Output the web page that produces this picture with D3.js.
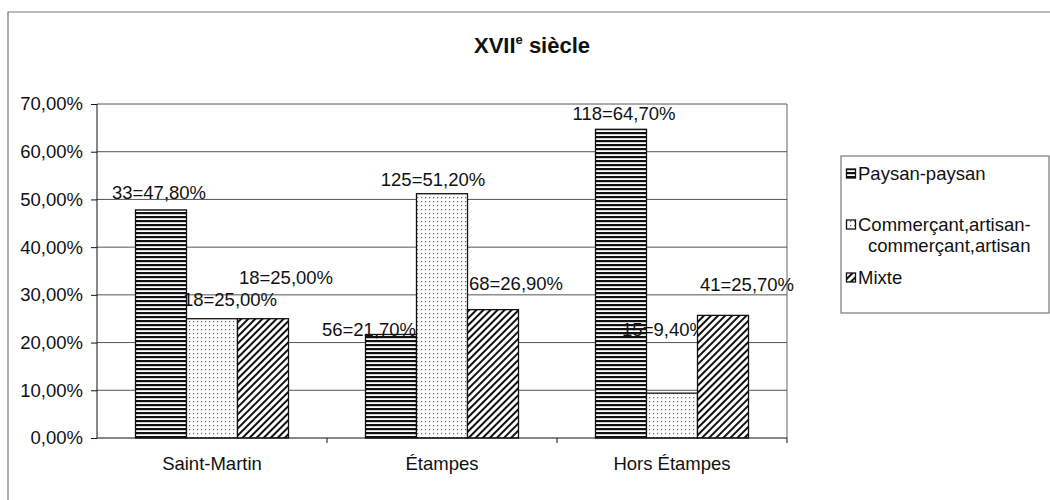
<!DOCTYPE html>
<html lang="fr">
<head>
<meta charset="UTF-8">
<title>XVIIe siècle</title>
<script src="https://d3js.org/d3.v7.min.js"></script>
<style>
  body { margin: 0; background: #fff; }
  text { font-family: "Liberation Sans", Arial, sans-serif; fill: #111; }
</style>
</head>
<body>
<script>
// data
const categories = ["Saint-Martin", "Étampes", "Hors Étampes"];
const seriesNames = ["Paysan-paysan", "Commerçant,artisan-commerçant,artisan", "Mixte"];
const paysan = [47.8, 21.7, 64.7];
const commercant = [25.0, 51.2, 9.4];
const mixte = [25.0, 26.9, 25.7];
const paysanN = [33, 56, 118];
const commercantN = [18, 125, 15];
const mixteN = [18, 68, 41];
const yTicks = [0, 10, 20, 30, 40, 50, 60, 70];

// label nudges (dx from bar centre, dy from bar top), labels were moved by hand in the original
const labelNudge = [
  [[-2, -17], [-22, -5], [3, -16]],
  [[18, -19], [-9, -14], [-8, -64]],
  [[23, -41], [23, -26], [24, -31]]
];

const width = 1050, height = 500;
const plot = {left: 97, right: 787, top: 104, bottom: 438};

const svg = d3.select("body").append("svg")
    .attr("width", width)
    .attr("height", height);

// hatch patterns
const defs = svg.append("defs");
const hp = defs.append("pattern").attr("id", "hstripe")
    .attr("patternUnits", "userSpaceOnUse").attr("width", 4).attr("height", 4);
hp.append("rect").attr("width", 4).attr("height", 4).attr("fill", "#fff");
hp.append("rect").attr("width", 4).attr("height", 2.2).attr("fill", "#111");

const dp = defs.append("pattern").attr("id", "dots")
    .attr("patternUnits", "userSpaceOnUse").attr("width", 4).attr("height", 4);
dp.append("rect").attr("width", 4).attr("height", 4).attr("fill", "#fff");
dp.append("rect").attr("x", 1).attr("y", 1).attr("width", 1.2).attr("height", 1.2).attr("fill", "#666");

const gp = defs.append("pattern").attr("id", "diag")
    .attr("patternUnits", "userSpaceOnUse").attr("width", 5).attr("height", 5)
    .attr("patternTransform", "rotate(45)");
gp.append("rect").attr("width", 5).attr("height", 5).attr("fill", "#fff");
gp.append("rect").attr("width", 2).attr("height", 5).attr("fill", "#111");

const fills = ["url(#hstripe)", "url(#dots)", "url(#diag)"];

// outer frame of the scanned chart
svg.append("path")
    .attr("d", "M8,500V12H1050")
    .attr("fill", "none").attr("stroke", "#777").attr("stroke-width", 1.2);

// title
const title = svg.append("text")
    .attr("x", 532).attr("y", 53)
    .attr("text-anchor", "middle")
    .attr("font-size", 22).attr("font-weight", "bold");
title.append("tspan").text("XVII");
title.append("tspan").attr("font-size", 13).attr("dy", -9).text("e");
title.append("tspan").attr("dy", 9).text(" siècle");

const x0 = d3.scaleBand().domain(categories).range([plot.left, plot.right]);
const x1 = d3.scaleBand().domain(seriesNames).range([38.5, x0.bandwidth() - 38.5]);
const y = d3.scaleLinear().domain([0, 70]).range([plot.bottom, plot.top]);

// grid
svg.append("g").selectAll("line").data(yTicks.slice(1)).join("line")
    .attr("x1", plot.left).attr("x2", plot.right)
    .attr("y1", d => y(d)).attr("y2", d => y(d))
    .attr("stroke", "#555").attr("stroke-width", 1);
svg.append("line")
    .attr("x1", plot.right).attr("x2", plot.right)
    .attr("y1", plot.top).attr("y2", plot.bottom)
    .attr("stroke", "#666");

// bars
const series = [
  {name: seriesNames[0], v: paysan, n: paysanN},
  {name: seriesNames[1], v: commercant, n: commercantN},
  {name: seriesNames[2], v: mixte, n: mixteN}
];
const fmt = v => v.toFixed(2).replace(".", ",") + "%";

series.forEach(function(s, si) {
  const g = svg.append("g");
  g.selectAll("rect").data(categories).join("rect")
      .attr("x", (c) => x0(c) + x1(s.name))
      .attr("y", (c, i) => y(s.v[i]))
      .attr("width", x1.bandwidth())
      .attr("height", (c, i) => y(0) - y(s.v[i]))
      .attr("fill", fills[si])
      .attr("stroke", "#111").attr("stroke-width", 1.3);
  g.selectAll("text").data(categories).join("text")
      .attr("x", (c, i) => x0(c) + x1(s.name) + x1.bandwidth() / 2 + labelNudge[si][i][0])
      .attr("y", (c, i) => y(s.v[i]) + labelNudge[si][i][1])
      .attr("dy", "0.35em")
      .attr("text-anchor", "middle")
      .attr("font-size", 18.5)
      .text((c, i) => s.n[i] + "=" + fmt(s.v[i]));
});

// axes
const yAxis = d3.axisLeft(y).tickValues(yTicks).tickFormat(fmt).tickSize(6).tickPadding(8);
const gy = svg.append("g").attr("transform", `translate(${plot.left},0)`).call(yAxis);
gy.selectAll("text").attr("font-size", 18.5).attr("fill", "#111");
gy.selectAll("line, path").attr("stroke", "#111");
gy.select(".domain").attr("d", `M0,${plot.top}V${plot.bottom}`);

const gx = svg.append("g").attr("transform", `translate(0,${plot.bottom})`);
gx.append("line").attr("x1", plot.left).attr("x2", plot.right).attr("stroke", "#111");
gx.selectAll("line.tk").data(categories).join("line").attr("class", "tk")
    .attr("x1", c => x0(c) + x0.bandwidth()).attr("x2", c => x0(c) + x0.bandwidth())
    .attr("y1", 0).attr("y2", 5).attr("stroke", "#111");
gx.selectAll("text").data(categories).join("text")
    .attr("x", c => x0(c) + x0.bandwidth() / 2)
    .attr("y", 32)
    .attr("text-anchor", "middle")
    .attr("font-size", 18.5)
    .text(c => c);

// legend
const lg = svg.append("g").attr("transform", "translate(841,156)");
lg.append("rect").attr("width", 208).attr("height", 157)
    .attr("fill", "#fff").attr("stroke", "#777").attr("stroke-width", 1.2);
const legendRows = [
  {lines: ["Paysan-paysan"], y: 18},
  {lines: ["Commerçant,artisan-", "commerçant,artisan"], y: 69},
  {lines: ["Mixte"], y: 122}
];
legendRows.forEach(function(r, i) {
  lg.append("rect").attr("x", 5.5).attr("y", r.y - 5).attr("width", 9).attr("height", 9)
      .attr("fill", fills[i]).attr("stroke", "#111").attr("stroke-width", 1.3);
  r.lines.forEach(function(line, k) {
    lg.append("text")
        .attr("x", k === 0 ? 17 : 27)
        .attr("y", r.y + k * 21)
        .attr("dy", "0.35em")
        .attr("font-size", 18.5)
        .text(line);
  });
});
</script>
</body>
</html>
